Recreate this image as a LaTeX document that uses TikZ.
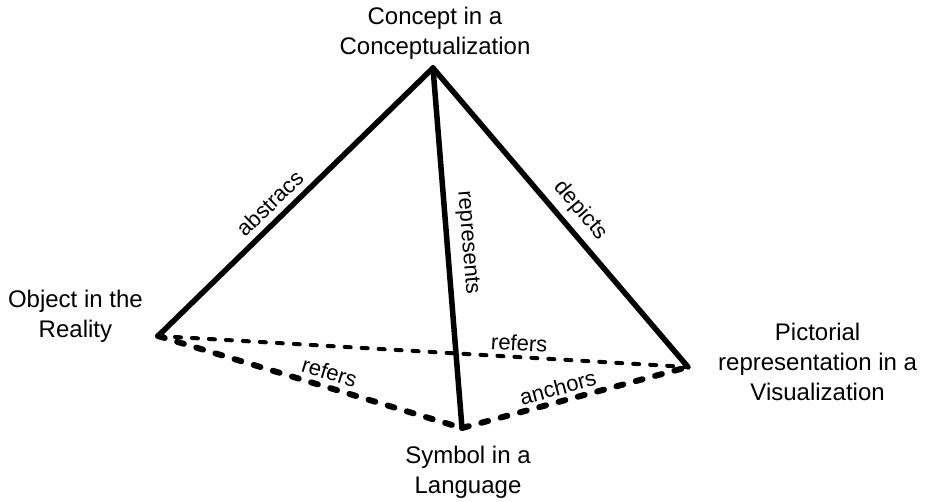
\documentclass[tikz,border=0pt]{standalone}
\usepackage{fontspec}
\setmainfont{Liberation Sans}
\usetikzlibrary{positioning}
\tikzset{txt/.style={align=center,inner sep=0pt,font=\fontsize{24}{30}\selectfont},lab/.style={sloped,inner sep=0pt,font=\fontsize{22}{24}\selectfont},lnk/.style={line width=5.5pt,line cap=round,line join=round},ref/.style={line width=4pt,line cap=round,dash pattern=on 6pt off 11pt},refb/.style={line width=6pt,line cap=round,dash pattern=on 7pt off 13pt}}

\begin{document}
\begin{tikzpicture}[x=1pt,y=1pt]
\useasboundingbox (0,0) rectangle (928,501);
\coordinate (t) at (433,433);\coordinate (l) at (158,165);\coordinate (r) at (688,134);\coordinate (b) at (462,73);
\node[txt,above=8pt of t,xshift=2pt] (concept) {Concept in a\\Conceptualization};
\node[txt,left=15pt of l,yshift=20pt] (object) {Object in the\\Reality};
\node[txt,right=30pt of r,yshift=5pt] (picture) {Pictorial\\representation in a\\Visualization};
\node[txt,below=18pt of b,xshift=6pt] (symbol) {Symbol in a\\Language};
\draw[ref] (l)--node[lab,above=4pt,pos=0.68]{refers}(r);
\draw[refb] (l)--node[lab,above=4pt,pos=0.55]{refers}(b);
\draw[refb] (b)--node[lab,above=3pt,pos=0.44]{anchors}(r);
\draw[lnk] (t)--node[lab,above=6pt,pos=0.55]{abstracs}(l);
\draw[lnk] (t)--node[lab,above=8pt,pos=0.49]{represents}(b);
\draw[lnk] (t)--node[lab,above=7pt,pos=0.52]{depicts}(r);
\end{tikzpicture}
\end{document}
